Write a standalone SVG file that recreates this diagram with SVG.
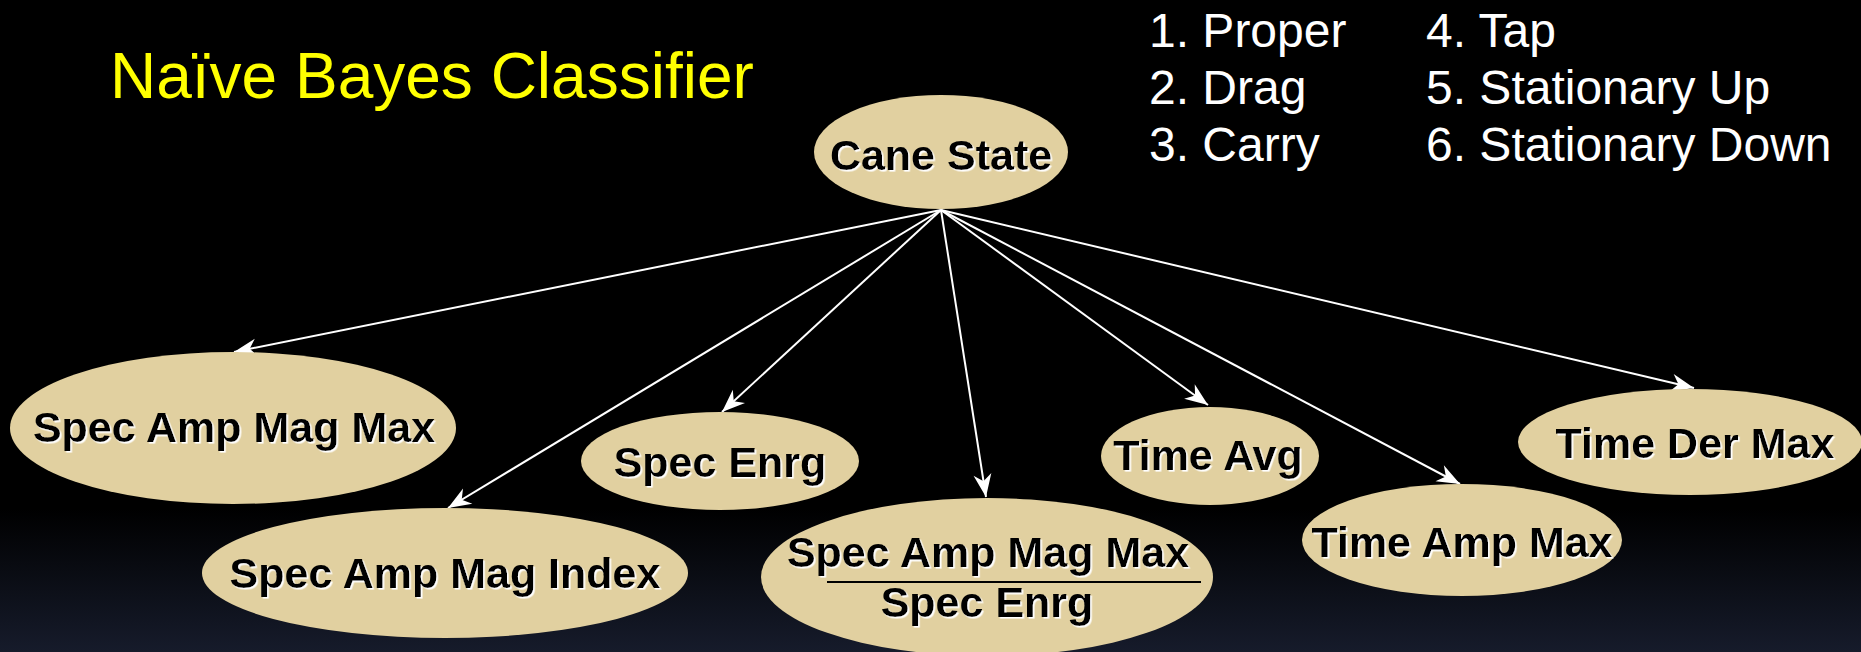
<svg xmlns="http://www.w3.org/2000/svg" width="1861" height="652" viewBox="0 0 1861 652">
  <defs>
    <linearGradient id="bg" x1="0" y1="0" x2="0" y2="1">
      <stop offset="0" stop-color="#000000"/>
      <stop offset="0.78" stop-color="#000000"/>
      <stop offset="1" stop-color="#161b2b"/>
    </linearGradient>
    <filter id="ws" x="-5%" y="-20%" width="110%" height="140%">
      <feDropShadow dx="1.6" dy="1.6" stdDeviation="0" flood-color="#ffffff" flood-opacity="1"/>
    </filter>
    <marker id="arr" markerUnits="userSpaceOnUse" markerWidth="30" markerHeight="24" viewBox="-24 -12 26 24" refX="0" refY="0" orient="auto">
      <path d="M0,0 L-23,-9 L-16,0 L-23,9 Z" fill="#ffffff"/>
    </marker>
    <style>
      .node ellipse { fill: #e1d0a0; }
      .lbl { font-family: "Liberation Sans", Arial, sans-serif; font-weight: bold; font-size: 43px; fill: #000000; text-anchor: middle; filter: url(#ws); }
      .edge { stroke: #ffffff; stroke-width: 2; fill: none; marker-end: url(#arr); }
      .title { font-family: "Liberation Sans", Arial, sans-serif; font-size: 64px; fill: #ffff00; }
      .legend { font-family: "Liberation Sans", Arial, sans-serif; font-size: 48px; fill: #ffffff; }
    </style>
  </defs>
  <rect x="0" y="0" width="1861" height="652" fill="url(#bg)"/>

  <text class="title" x="110" y="98">Naïve Bayes Classifier</text>

  <g id="legend">
    <text class="legend" x="1149" y="47">1. Proper</text>
    <text class="legend" x="1149" y="104">2. Drag</text>
    <text class="legend" x="1149" y="161">3. Carry</text>
    <text class="legend" x="1426" y="47">4. Tap</text>
    <text class="legend" x="1426" y="104">5. Stationary Up</text>
    <text class="legend" x="1426" y="161">6. Stationary Down</text>
  </g>

  <g id="connectors">
    <line class="edge" x1="941" y1="210" x2="234" y2="352"/>
    <line class="edge" x1="941" y1="210" x2="448" y2="508"/>
    <line class="edge" x1="941" y1="210" x2="722" y2="412"/>
    <line class="edge" x1="941" y1="210" x2="986" y2="497"/>
    <line class="edge" x1="941" y1="210" x2="1208" y2="405"/>
    <line class="edge" x1="941" y1="210" x2="1460" y2="484"/>
    <line class="edge" x1="941" y1="210" x2="1694" y2="388"/>
  </g>

  <g id="cane-state" class="node">
    <ellipse cx="941" cy="152" rx="127" ry="57"/>
    <text class="lbl" x="941" y="170">Cane State</text>
  </g>

  <g id="spec-amp-mag-max" class="node">
    <ellipse cx="233" cy="428" rx="223" ry="76"/>
    <text class="lbl" x="234" y="442">Spec Amp Mag Max</text>
  </g>

  <g id="spec-amp-mag-index" class="node">
    <ellipse cx="445" cy="573" rx="243" ry="65"/>
    <text class="lbl" x="445" y="588">Spec Amp Mag Index</text>
  </g>

  <g id="spec-enrg" class="node">
    <ellipse cx="720" cy="461" rx="139" ry="49"/>
    <text class="lbl" x="720" y="477">Spec Enrg</text>
  </g>

  <g id="ratio" class="node">
    <ellipse cx="987" cy="577" rx="226" ry="79"/>
    <text class="lbl" x="988" y="567">Spec Amp Mag Max</text>
    <line x1="827" y1="582" x2="1201" y2="582" stroke="#000000" stroke-width="2"/>
    <text class="lbl" x="987" y="617">Spec Enrg</text>
  </g>

  <g id="time-avg" class="node">
    <ellipse cx="1210" cy="456" rx="109" ry="49"/>
    <text class="lbl" x="1208" y="470">Time Avg</text>
  </g>

  <g id="time-amp-max" class="node">
    <ellipse cx="1462" cy="540" rx="160" ry="56"/>
    <text class="lbl" x="1462" y="557">Time Amp Max</text>
  </g>

  <g id="time-der-max" class="node">
    <ellipse cx="1690" cy="442" rx="172" ry="53"/>
    <text class="lbl" x="1695" y="458">Time Der Max</text>
  </g>
</svg>
